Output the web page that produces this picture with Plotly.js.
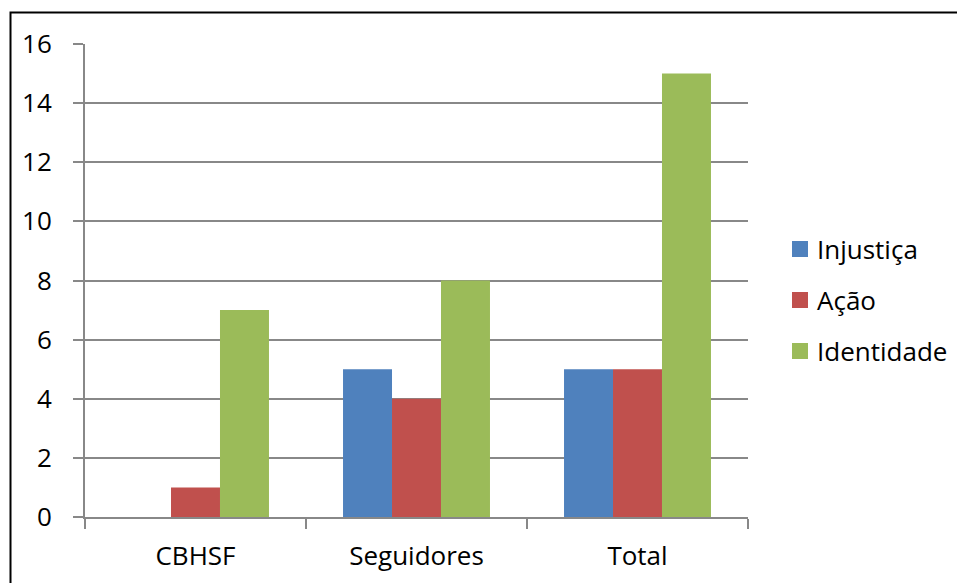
<!DOCTYPE html>
<html>
<head>
<meta charset="utf-8">
<script src="https://cdn.plot.ly/plotly-3.0.1.min.js"></script>
<style>html,body{margin:0;padding:0;background:#fff;overflow:hidden;}#chart{width:957px;height:583px;}</style>
</head>
<body>
<div id="chart"></div>
<script>
const categories = ["CBHSF", "Seguidores", "Total"];
const seriesNames = ["Injustiça", "Ação", "Identidade"];
const injustica = [0, 5, 5];
const acao = [1, 4, 5];
const identidade = [7, 8, 15];
const yTicks = [0, 2, 4, 6, 8, 10, 12, 14, 16];

const colors = ["#4F81BD", "#C0504D", "#9BBB59"];
const seriesValues = [injustica, acao, identidade];

const traces = seriesValues.map((vals, i) => ({
  type: "bar",
  name: seriesNames[i],
  x: categories,
  y: vals,
  marker: { color: colors[i], line: { width: 0 } },
  hoverinfo: "x+y+name"
}));

const gridCol = "#888888";
const font = "'Open Sans', 'Noto Sans', sans-serif";

// plot area in pixels: x 85..748, y 44..517
const PL = 85, PR = 748, PT = 44, PB = 517;
const px = v => (v - PL) / (PR - PL);
const py = v => (PB - v) / (PB - PT);

// Legend drawn as shapes + annotations (same names / colours as traces)
const legendShapes = [];
const legendAnns = [];
seriesNames.forEach((name, i) => {
  const cy = 249 + i * 51;
  legendShapes.push({
    type: "rect", xref: "paper", yref: "paper",
    x0: px(792), x1: px(808), y0: py(cy + 8), y1: py(cy - 8),
    fillcolor: colors[i], line: { width: 0 }, layer: "above"
  });
  legendAnns.push({
    xref: "paper", yref: "paper", x: px(815), y: py(cy),
    xanchor: "left", yanchor: "middle", showarrow: false,
    text: name, font: { family: font, size: 26, color: "#000" }
  });
});

const layout = {
  width: 957,
  height: 583,
  margin: { l: 85, r: 209, t: 44, b: 66, pad: 0 },
  paper_bgcolor: "#ffffff",
  plot_bgcolor: "#ffffff",
  font: { family: font, size: 26, color: "#000000" },
  barmode: "group",
  bargap: 0.335,
  bargroupgap: 0,
  showlegend: false,
  xaxis: {
    type: "category",
    showgrid: false,
    showline: true,
    linecolor: gridCol,
    linewidth: 2,
    ticks: "outside",
    tickson: "boundaries",
    ticklen: 10,
    tickwidth: 2,
    tickcolor: gridCol,
    ticklabelstandoff: 15,
    tickfont: { family: font, size: 26, color: "#000" },
    zeroline: false,
    automargin: false,
    fixedrange: true
  },
  yaxis: {
    range: [0, 16],
    tickvals: yTicks,
    ticktext: yTicks.map(String),
    showgrid: true,
    gridcolor: gridCol,
    gridwidth: 2,
    showline: true,
    linecolor: gridCol,
    linewidth: 2,
    ticks: "outside",
    ticklen: 10,
    tickwidth: 2,
    tickcolor: gridCol,
    ticklabelstandoff: 16,
    tickfont: { family: font, size: 26, color: "#000" },
    zeroline: false,
    automargin: false,
    fixedrange: true
  },
  shapes: [{
    type: "rect",
    xref: "paper", yref: "paper",
    x0: px(10.5), x1: 2,
    y0: -1, y1: py(12.5),
    line: { color: "#000", width: 2 },
    fillcolor: "rgba(0,0,0,0)",
    layer: "above"
  }].concat(legendShapes),
  annotations: legendAnns
};

Plotly.newPlot("chart", traces, layout, { displayModeBar: false, staticPlot: true });
</script>
</body>
</html>
